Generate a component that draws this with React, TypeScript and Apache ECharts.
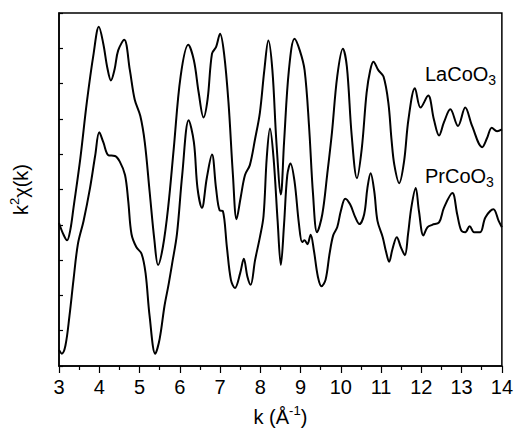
import React, { useEffect, useRef } from "react";
import * as echarts from "echarts";

const laK = [3.0, 3.1, 3.2, 3.28, 3.36, 3.53, 3.69, 3.86, 3.99, 4.1, 4.2, 4.29, 4.38, 4.47, 4.62, 4.76, 4.88, 5.02, 5.13, 5.25, 5.37, 5.46, 5.58, 5.71, 5.85, 6.02, 6.21, 6.35, 6.47, 6.59, 6.69, 6.8, 6.9, 7.0, 7.1, 7.21, 7.32, 7.41, 7.51, 7.62, 7.74, 7.87, 7.99, 8.1, 8.2, 8.3, 8.4, 8.51, 8.59, 8.71, 8.85, 8.98, 9.1, 9.21, 9.31, 9.41, 9.54, 9.66, 9.78, 9.91, 10.05, 10.15, 10.27, 10.4, 10.52, 10.64, 10.73, 10.81, 10.93, 11.06, 11.18, 11.26, 11.33, 11.45, 11.57, 11.68, 11.84, 11.98, 12.17, 12.31, 12.44, 12.56, 12.72, 12.91, 13.09, 13.26, 13.51, 13.63, 13.75, 13.88, 14.0];
const laV = [4.05, 3.75, 3.56, 3.85, 4.48, 5.88, 7.46, 8.85, 9.61, 9.13, 8.45, 8.09, 8.4, 8.94, 9.24, 8.38, 7.55, 7.08, 6.34, 4.95, 3.56, 2.86, 3.37, 4.48, 6.16, 8.2, 9.1, 8.66, 7.74, 7.04, 7.55, 8.85, 9.03, 9.41, 8.85, 7.46, 5.41, 4.16, 4.76, 5.41, 5.69, 6.43, 7.18, 8.38, 9.22, 8.38, 6.34, 4.86, 6.34, 8.38, 9.27, 8.94, 8.38, 6.8, 4.86, 3.79, 4.3, 5.41, 6.62, 8.2, 8.99, 8.48, 6.53, 5.32, 6.16, 7.74, 8.38, 8.62, 8.38, 8.2, 7.46, 6.4, 5.69, 5.18, 5.79, 6.99, 7.87, 7.32, 7.66, 6.99, 6.53, 6.9, 7.27, 6.8, 7.32, 6.8, 6.2, 6.45, 6.75, 6.65, 6.7];

const prK = [3.0, 3.07, 3.16, 3.26, 3.36, 3.47, 3.61, 3.77, 3.9, 4.0, 4.1, 4.23, 4.39, 4.51, 4.64, 4.72, 4.8, 4.92, 5.05, 5.15, 5.25, 5.39, 5.5, 5.62, 5.72, 5.81, 5.93, 6.06, 6.22, 6.35, 6.44, 6.55, 6.67, 6.8, 6.9, 6.99, 7.07, 7.17, 7.27, 7.37, 7.5, 7.59, 7.68, 7.76, 7.87, 7.99, 8.08, 8.16, 8.24, 8.33, 8.43, 8.51, 8.59, 8.67, 8.75, 8.85, 8.96, 9.04, 9.1, 9.17, 9.25, 9.33, 9.43, 9.52, 9.62, 9.72, 9.81, 9.91, 10.0, 10.11, 10.23, 10.36, 10.46, 10.58, 10.66, 10.74, 10.83, 10.91, 11.04, 11.12, 11.2, 11.28, 11.39, 11.49, 11.59, 11.67, 11.75, 11.86, 11.94, 12.05, 12.15, 12.27, 12.44, 12.56, 12.77, 12.89, 12.99, 13.09, 13.2, 13.31, 13.46, 13.59, 13.79, 13.92, 14.0];
const prV = [0.45, 0.35, 0.58, 1.42, 2.44, 3.46, 4.11, 5.04, 5.97, 6.62, 6.34, 5.97, 5.95, 5.79, 5.41, 4.67, 3.74, 3.37, 3.18, 2.63, 1.42, 0.35, 0.77, 1.7, 2.3, 2.9, 3.74, 5.41, 6.96, 6.34, 5.04, 4.48, 5.32, 5.99, 5.04, 4.41, 4.39, 3.37, 2.44, 2.21, 2.63, 3.04, 2.53, 2.3, 3.0, 3.65, 4.25, 5.9, 6.73, 5.88, 4.11, 2.86, 4.02, 5.41, 5.74, 5.23, 4.02, 3.51, 3.56, 3.45, 3.72, 3.28, 2.53, 2.26, 2.44, 3.18, 3.7, 3.93, 4.39, 4.74, 4.58, 4.21, 4.02, 4.3, 5.04, 5.46, 4.95, 4.11, 3.65, 3.25, 2.95, 3.3, 3.65, 3.37, 3.14, 3.74, 4.48, 5.04, 4.39, 3.7, 3.93, 4.0, 4.07, 4.48, 4.9, 4.3, 3.84, 3.79, 3.96, 3.79, 3.79, 4.21, 4.44, 4.11, 3.93];

const xTicks = [3, 4, 5, 6, 7, 8, 9, 10, 11, 12, 13, 14];
const seriesNames = ["LaCoO", "PrCoO"];

const FONT = "Liberation Sans";

export default function App() {
  const ref = useRef<HTMLDivElement>(null);
  useEffect(() => {
    if (!ref.current) return;
    const chart = echarts.init(ref.current, null, { renderer: "svg" });
    const pairs = (ks: number[], vs: number[]) => ks.map((k, i) => [k, vs[i]]);
    const richName = {
      a: { fontFamily: FONT, fontSize: 20, color: "#000", lineHeight: 23, verticalAlign: "bottom" },
      s: { fontFamily: FONT, fontSize: 13, color: "#000", verticalAlign: "top", lineHeight: 23 },
    };
    const richLabel = {
      a: { fontFamily: FONT, fontSize: 20, fill: "#000", lineHeight: 23, verticalAlign: "top" },
      b: { fontFamily: FONT, fontSize: 14, fill: "#000", lineHeight: 23, verticalAlign: "bottom" },
    };
    chart.setOption({
      animation: false,
      backgroundColor: "#fff",
      grid: { left: 56, right: 14, top: 13, bottom: 61, show: true, borderColor: "#000", borderWidth: 1.5, backgroundColor: "transparent" },
      xAxis: {
        type: "value",
        min: xTicks[0],
        max: xTicks[xTicks.length - 1],
        interval: 1,
        axisLine: { show: true, lineStyle: { color: "#000", width: 1.5 } },
        axisTick: { show: true, inside: false, length: 7, lineStyle: { color: "#000", width: 1.2 } },
        minorTick: { show: true, splitNumber: 2, length: 4, lineStyle: { color: "#000", width: 1.2 } },
        splitLine: { show: false },
        axisLabel: { color: "#000", fontFamily: FONT, fontSize: 20, margin: 11 },
        name: "{a|k (Å}{s|-1}{a|)}",
        nameLocation: "middle",
        nameGap: 38,
        nameTextStyle: { rich: richName },
      },
      yAxis: {
        type: "value",
        min: 0,
        max: 10,
        interval: 1,
        axisLine: { show: true, lineStyle: { color: "#000", width: 1.5 } },
        axisTick: { show: true, inside: true, length: 4, lineStyle: { color: "#000", width: 1.2 } },
        splitLine: { show: false },
        axisLabel: { show: false },
        name: "{a|k}{s|2}{a|χ(k)}",
        nameLocation: "middle",
        nameRotate: 90,
        nameGap: 28,
        nameTextStyle: { rich: richName },
      },
      graphic: [
        {
          type: "text",
          left: 425,
          top: 64,
          style: { text: "{a|" + seriesNames[0] + "}{b|3}", rich: richLabel },
        },
        {
          type: "text",
          left: 425,
          top: 166,
          style: { text: "{a|" + seriesNames[1] + "}{b|3}", rich: richLabel },
        },
      ],
      series: [
        {
          type: "line",
          name: "LaCoO3",
          data: pairs(laK, laV),
          smooth: 0.35,
          showSymbol: false,
          symbol: "none",
          lineStyle: { color: "#000", width: 2 },
        },
        {
          type: "line",
          name: "PrCoO3",
          data: pairs(prK, prV),
          smooth: 0.35,
          showSymbol: false,
          symbol: "none",
          lineStyle: { color: "#000", width: 2 },
        },
      ],
    });
    return () => chart.dispose();
  }, []);
  return <div ref={ref} style={{ width: 516, height: 432, position: "absolute", left: 0, top: 0 }} />;
}
